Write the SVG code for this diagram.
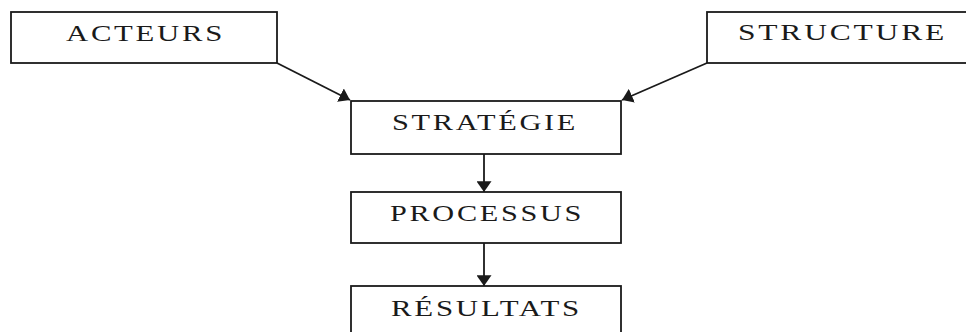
<svg xmlns="http://www.w3.org/2000/svg" width="966" height="332" viewBox="0 0 966 332">
  <style>
    .box { fill: #ffffff; stroke: #1a1a1a; stroke-width: 1.8; }
    .label { font-family: "Liberation Serif", "Times New Roman", serif; font-size: 22.5px; fill: #1a1a1a; letter-spacing: 2px; }
    .edge { fill: none; stroke: #1a1a1a; stroke-width: 1.8; }
  </style>
  <defs>
    <!-- filled triangular arrowhead, slightly wider than long -->
    <marker id="arrowLg" viewBox="0 0 10 14" refX="10" refY="7" markerWidth="11" markerHeight="15" markerUnits="userSpaceOnUse" orient="auto">
      <path d="M0,0 L10,7 L0,14 z" fill="#1a1a1a"/>
    </marker>
  </defs>
  <rect width="966" height="332" fill="#ffffff"/>

  <g id="connectors">
    <line class="edge" x1="277" y1="63" x2="350" y2="100" marker-end="url(#arrowLg)"/>
    <line class="edge" x1="707" y1="63" x2="622" y2="100" marker-end="url(#arrowLg)"/>
    <line class="edge" x1="484" y1="154" x2="484" y2="192" marker-end="url(#arrowLg)"/>
    <line class="edge" x1="484" y1="243" x2="484" y2="286" marker-end="url(#arrowLg)"/>
  </g>

  <g id="acteurs">
    <rect class="box" x="11" y="12" width="266" height="51"/>
    <text class="label" x="66" y="41" textLength="159" lengthAdjust="spacingAndGlyphs">ACTEURS</text>
  </g>

  <g id="structure">
    <rect class="box" x="707" y="12" width="270" height="51"/>
    <text class="label" x="738" y="40" textLength="209" lengthAdjust="spacingAndGlyphs">STRUCTURE</text>
  </g>

  <g id="strategie">
    <rect class="box" x="351" y="101" width="270" height="53"/>
    <text class="label" x="392" y="130" textLength="186" lengthAdjust="spacingAndGlyphs">STRATÉGIE</text>
  </g>

  <g id="processus">
    <rect class="box" x="351" y="192" width="270" height="51"/>
    <text class="label" x="390" y="221" textLength="194" lengthAdjust="spacingAndGlyphs">PROCESSUS</text>
  </g>

  <g id="resultats">
    <rect class="box" x="351" y="286" width="270" height="60"/>
    <text class="label" x="391" y="316" textLength="191" lengthAdjust="spacingAndGlyphs">RÉSULTATS</text>
  </g>
</svg>
